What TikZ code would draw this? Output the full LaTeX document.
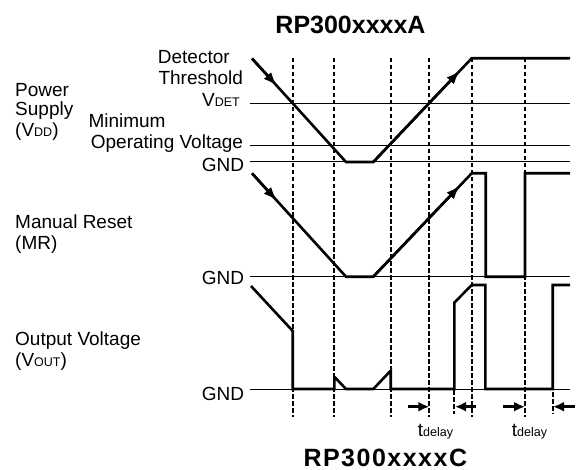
\documentclass[tikz,border=0pt]{standalone}
\usepackage{fontspec}
\setmainfont{Liberation Sans}
\usetikzlibrary{arrows.meta}
\newcommand{\smtxt}[1]{{\fontsize{12.5}{14}\selectfont #1}}
\tikzset{
  wave/.style={line width=2.6pt, line join=miter},
  guide/.style={line width=1pt},
  vdash/.style={line width=1.9pt, dash pattern=on 4.5pt off 2.5pt},
  lbl/.style={font=\fontsize{19}{21}\selectfont, inner sep=0pt},
  ttl/.style={font=\fontsize{25}{28}\selectfont\bfseries, inner sep=0pt},
  wavearrow/.style={line width=2.6pt, -{Latex[length=14pt,width=10pt]}},
  tarrow/.style={line width=2.6pt, -{Latex[length=11pt,width=10pt]}},
}
\begin{document}
\begin{tikzpicture}[x=1pt,y=-1pt]
\useasboundingbox (0,0) rectangle (577,470);

% titles
\node[ttl, anchor=base] (titleA) at (350.5,33.3) {RP300xxxxA};
\node[ttl, anchor=base west] (titleC) at (303.3,466) {\addfontfeature{LetterSpace=6}RP300xxxxC};

% horizontal guide lines
\coordinate (vdetL) at (250,103.3); \coordinate (vdetR) at (570,103.3);
\coordinate (minL) at (250,145.7);  \coordinate (minR) at (570,145.7);
\coordinate (g1L) at (250,162);     \coordinate (g1R) at (570,162);
\coordinate (g2L) at (250,276.7);   \coordinate (g2R) at (570,276.7);
\coordinate (g3L) at (250,389);     \coordinate (g3R) at (570,389);
\draw[guide] (vdetL) -- (vdetR);
\draw[guide] (minL) -- (minR);
\draw[guide] (g1L) -- (g1R);
\draw[guide] (g2L) -- (g2R);
\draw[guide] (g3L) -- (g3R);

% dashed time markers
\foreach \x in {292.7,334.3,391,429.3,471.7,525}
  \draw[vdash] (\x,58) -- (\x,417);
\draw[vdash] (454.3,390) -- (454.3,414);
\draw[vdash] (552.7,392) -- (552.7,414);

% labels
\node[lbl, anchor=base west] (det1) at (157.7,64) {Detector};
\node[lbl, anchor=base west] (det2) at (158.3,85) {Threshold};
\node[lbl, anchor=base east] (vdet) at (240,106.7) {V\smtxt{DET}};
\node[lbl, anchor=base west] (min1) at (88.3,127.3) {Minimum};
\node[lbl, anchor=base west] (min2) at (90.7,148.3) {Operating Voltage};
\node[lbl, anchor=base east] (gnd1) at (244.3,171.7) {GND};
\node[lbl, anchor=base west] (ps1) at (15,96.7) {Power};
\node[lbl, anchor=base west] (ps2) at (15,116) {Supply};
\node[lbl, anchor=base west] (ps3) at (15,137) {(V\smtxt{DD})};
\node[lbl, anchor=base west] (mr1) at (15,228) {Manual Reset};
\node[lbl, anchor=base west] (mr2) at (15,249) {(MR)};
\node[lbl, anchor=base east] (gnd2) at (244.3,284) {GND};
\node[lbl, anchor=base west] (ov1) at (15,345.7) {Output Voltage};
\node[lbl, anchor=base west] (ov2) at (15,366.7) {(V\smtxt{OUT})};
\node[lbl, anchor=base east] (gnd3) at (244.3,400) {GND};
\node[lbl, anchor=base west] (td1) at (417.7,436.7) {t\smtxt{delay}};
\node[lbl, anchor=base west] (td2) at (511.7,436.7) {t\smtxt{delay}};

% VDD waveform
\draw[wave] (252,58.5) -- (346,162) -- (373.3,162) -- (471.7,58.3) -- (570,58.3);
\draw[wavearrow] (252,58.5) -- (277,86);
\draw[wavearrow] (373.3,162) -- (460,70.6);

% MR waveform
\draw[wave] (252,173.3) -- (346,276.7) -- (373.3,276.7) -- (471.7,173.3) -- (485.7,173.3)
  -- (485.7,276.7) -- (525,276.7) -- (525,173.3) -- (570,173.3);
\draw[wavearrow] (252,173.3) -- (277,200.8);
\draw[wavearrow] (373.3,276.7) -- (460,185.6);

% Output waveform
\draw[wave] (251,286) -- (292.7,331) -- (292.7,389) -- (334.3,389) -- (334.3,376.7)
  -- (346,389) -- (373.3,389) -- (390.7,370.7) -- (390.7,389) -- (454.3,389)
  -- (454.3,302.7) -- (471.7,285) -- (485.3,285) -- (485.3,389) -- (552.7,389)
  -- (552.7,285) -- (570,285);

% tdelay arrows
\coordinate (a1s) at (408,406.7); \coordinate (a1e) at (429.3,406.7);
\coordinate (a2s) at (476,406.7); \coordinate (a2e) at (455,406.7);
\coordinate (a3s) at (503,406.7); \coordinate (a3e) at (525,406.7);
\coordinate (a4s) at (575,406.7); \coordinate (a4e) at (553,406.7);
\draw[tarrow] (a1s) -- (a1e);
\draw[tarrow] (a2s) -- (a2e);
\draw[tarrow] (a3s) -- (a3e);
\draw[tarrow] (a4s) -- (a4e);
\end{tikzpicture}
\end{document}
